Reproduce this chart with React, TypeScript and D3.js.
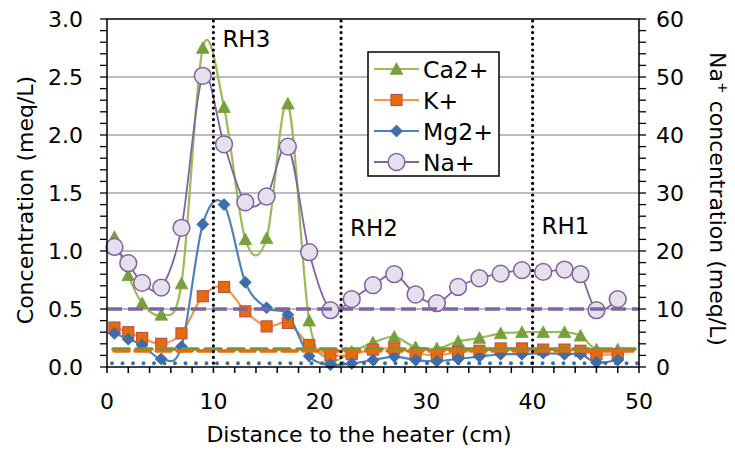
import React from "react";
import * as d3 from "d3";

const distance = [0.7, 2, 3.3, 5.1, 7, 9, 11, 13, 15, 17, 19, 21, 23, 25, 27, 29, 31, 33, 35, 37, 39, 41, 43, 44.5, 46, 48];
const ca = [1.12, 0.79, 0.55, 0.45, 0.72, 2.75, 2.24, 1.1, 1.11, 2.27, 0.4, 0.07, 0.13, 0.21, 0.26, 0.17, 0.16, 0.22, 0.25, 0.29, 0.3, 0.3, 0.3, 0.27, 0.15, 0.15];
const kk = [0.34, 0.3, 0.25, 0.2, 0.29, 0.61, 0.69, 0.48, 0.35, 0.38, 0.19, 0.1, 0.11, 0.15, 0.16, 0.12, 0.1, 0.13, 0.14, 0.16, 0.16, 0.15, 0.15, 0.14, 0.11, 0.11];
const mg = [0.29, 0.24, 0.19, 0.07, 0.175, 1.23, 1.4, 0.73, 0.51, 0.45, 0.095, 0.02, 0.03, 0.06, 0.09, 0.06, 0.05, 0.07, 0.09, 0.11, 0.11, 0.12, 0.11, 0.11, 0.04, 0.06];
const na = [20.7, 17.9, 14.5, 13.7, 24.0, 50.2, 38.4, 28.4, 29.4, 38.0, 19.8, 9.8, 11.7, 14.1, 16.0, 12.5, 11.0, 13.8, 15.3, 16.1, 16.7, 16.4, 16.8, 16.0, 9.8, 11.7];

// reference levels (left axis units)
const naRef = 0.5;
const caRef = 0.155;
const kRef = 0.138;
const mgRef = 0.032;

// heater positions
const rhPos = [10, 22, 40];
const rhLabels = ["RH3", "RH2", "RH1"];
const rhLabelY = [47, 236, 234];

const xTicks = [0, 10, 20, 30, 40, 50];
const yTicks = [0, 0.5, 1, 1.5, 2, 2.5, 3];
const y2Ticks = [0, 10, 20, 30, 40, 50, 60];

const C = {
  caLine: "#9bbb59", caFill: "#77a03c",
  kLine: "#f79646", kFill: "#e46c0a", kStroke: "#c0504d",
  mgLine: "#4f81bd", mgFill: "#3d6eaa",
  naLine: "#8064a2", naFill: "#e6e0ec",
};

const FONT = "DejaVu Sans, Verdana, sans-serif";
const FS = 22;

export default function App() {
  const L = 107, R = 639, T = 19, B = 367;
  const x = d3.scaleLinear().domain([0, 50]).range([L, R]);
  const y = d3.scaleLinear().domain([0, 3]).range([B, T]);
  const y2 = d3.scaleLinear().domain([0, 60]).range([B, T]);

  const mk = (vals: number[], ys: d3.ScaleLinear<number, number>) =>
    d3.line<number>().x((_, i) => x(distance[i])).y((v) => ys(v)).curve(d3.curveCatmullRom.alpha(0))(vals) || "";

  const tri = (cx: number, cy: number, s = 6.3) =>
    `M${cx},${cy - s}L${cx + s},${cy + s * 0.85}L${cx - s},${cy + s * 0.85}Z`;
  const dia = (cx: number, cy: number, s = 6) =>
    `M${cx},${cy - s}L${cx + s},${cy}L${cx},${cy + s}L${cx - s},${cy}Z`;

  const minorX = d3.range(0, 50.01, 2);
  const minorY = d3.range(0, 3.001, 0.1);

  const legendItems = [
    { label: "Ca2+", type: "tri" },
    { label: "K+", type: "sq" },
    { label: "Mg2+", type: "dia" },
    { label: "Na+", type: "circ" },
  ];
  const marker = (type: string, cx: number, cy: number, key?: any) => {
    if (type === "tri") return <path key={key} d={tri(cx, cy)} fill={C.caFill} stroke={C.caFill} strokeWidth={0.8} />;
    if (type === "sq") return <rect key={key} x={cx - 5.5} y={cy - 5.5} width={11} height={11} fill={C.kFill} stroke={C.kStroke} strokeWidth={1.2} />;
    if (type === "dia") return <path key={key} d={dia(cx, cy)} fill={C.mgFill} stroke={C.mgFill} strokeWidth={0.8} />;
    return <circle key={key} cx={cx} cy={cy} r={8.4} fill={C.naFill} stroke={C.naLine} strokeWidth={1.5} />;
  };

  return (
    <svg width={735} height={452} style={{ position: "absolute", left: 0, top: 0, background: "#fff" }} fontFamily={FONT}>
      <rect x={0} y={0} width={735} height={452} fill="#fff" />
      {/* gridlines */}
      {yTicks.slice(1, -1).map((t) => (
        <line key={t} x1={L} x2={R} y1={y(t)} y2={y(t)} stroke="#a6a6a6" strokeWidth={1.3} />
      ))}

      {/* series lines */}
      <path d={mk(ca, y)} fill="none" stroke={C.caLine} strokeWidth={2.2} />
      <path d={mk(kk, y)} fill="none" stroke={C.kLine} strokeWidth={2.2} />
      <path d={mk(mg, y)} fill="none" stroke={C.mgLine} strokeWidth={2.2} />
      {ca.map((v, i) => marker("tri", x(distance[i]), y(v), "ca" + i))}
      {kk.map((v, i) => marker("sq", x(distance[i]), y(v), "k" + i))}
      {mg.map((v, i) => marker("dia", x(distance[i]), y(v), "mg" + i))}
      <path d={mk(na, y2)} fill="none" stroke={C.naLine} strokeWidth={1.8} />
      {na.map((v, i) => marker("circ", x(distance[i]), y2(v), "na" + i))}

      {/* reference lines */}
      <line x1={L} x2={R} y1={y(naRef)} y2={y(naRef)} stroke={C.naLine} strokeWidth={3.5} strokeDasharray="15,6" />
      <line x1={L + 6} x2={R} y1={y(caRef)} y2={y(caRef)} stroke="#77933c" strokeWidth={3.5} strokeDasharray="16,7" strokeLinecap="round" />
      <line x1={L + 4} x2={R} y1={y(kRef)} y2={y(kRef)} stroke="#e46c0a" strokeWidth={3.5} strokeDasharray="15,6" strokeLinecap="round" strokeDashoffset={-3} />
      <line x1={L + 5} x2={R} y1={y(mgRef)} y2={y(mgRef)} stroke="#3a6ea5" strokeWidth={4} strokeDasharray="0,10.5" strokeLinecap="round" />

      {/* heater dotted lines */}
      {rhPos.map((p, i) => (
        <g key={p}>
          <line x1={x(p)} x2={x(p)} y1={T + 2} y2={B} stroke="#000" strokeWidth={3.2} strokeDasharray="0,5.8" strokeLinecap="round" />
          <text x={x(p) + 9} y={rhLabelY[i]} fontSize={23} fill="#000">{rhLabels[i]}</text>
        </g>
      ))}

      {/* frame */}
      <rect x={L} y={T} width={R - L} height={B - T} fill="none" stroke="#000" strokeWidth={1.5} />
      {/* ticks */}
      {minorX.map((t) => (
        <line key={"xt" + t} x1={x(t)} x2={x(t)} y1={B} y2={B + 6} stroke="#000" strokeWidth={1.5} />
      ))}
      {minorY.map((t) => (
        <g key={"yt" + t}>
          <line x1={L - 7} x2={L} y1={y(t)} y2={y(t)} stroke="#000" strokeWidth={1.3} />
          <line x1={R} x2={R + 7} y1={y(t)} y2={y(t)} stroke="#000" strokeWidth={1.3} />
        </g>
      ))}
      {xTicks.map((t) => (
        <text key={"xl" + t} x={x(t)} y={409} fontSize={FS} textAnchor="middle">{t}</text>
      ))}
      {yTicks.map((t) => (
        <text key={"yl" + t} x={L - 24} y={y(t) + 8} fontSize={FS} textAnchor="end">{t.toFixed(1)}</text>
      ))}
      {y2Ticks.map((t) => (
        <text key={"y2l" + t} x={R + 17} y={y2(t) + 8} fontSize={FS} textAnchor="start">{t}</text>
      ))}
      <text x={(L + R) / 2 - 14} y={442} fontSize={FS} textAnchor="middle">Distance to the heater (cm)</text>
      <text transform={`translate(33,${(T + B) / 2 + 7}) rotate(-90)`} fontSize={FS} textAnchor="middle">Concentration (meq/L)</text>
      <text transform={`translate(710,${(T + B) / 2 + 6}) rotate(90)`} fontSize={FS} textAnchor="middle">
        Na<tspan baselineShift="super" fontSize={14}>+</tspan> concentration (meq/L)
      </text>

      {/* legend */}
      <g>
        <rect x={368} y={52} width={131} height={124} fill="#fff" stroke="#000" strokeWidth={1.5} />
        {legendItems.map((it, i) => {
          const cy = 69 + i * 31;
          const col = [C.caLine, C.kLine, C.mgLine, C.naLine][i];
          return (
            <g key={it.label}>
              <line x1={374} x2={419} y1={cy} y2={cy} stroke={col} strokeWidth={2.2} />
              {marker(it.type, 396.5, cy)}
              <text x={423} y={cy + 8.5} fontSize={23.5}>{it.label}</text>
            </g>
          );
        })}
      </g>
    </svg>
  );
}
